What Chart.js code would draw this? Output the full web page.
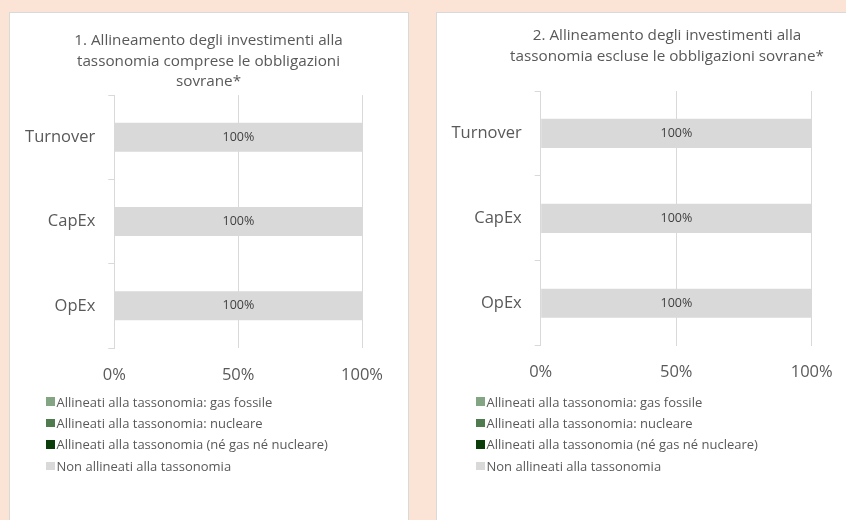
<!DOCTYPE html>
<html>
<head>
<meta charset="utf-8">
<script src="https://cdn.jsdelivr.net/npm/chart.js@4"></script>
<style>
  body {
    margin: 0;
    width: 846px;
    height: 520px;
    overflow: hidden;
    background: #fbe4d6;
    position: relative;
    font-family: "Open Sans", sans-serif;
  }
  .panel {
    position: absolute;
    box-sizing: border-box;
    background: #fff;
    border: 1px solid #d9d9d9;
  }
  canvas { position: absolute; }
  .legend {
    position: absolute;
    font-size: 13px;
    color: #595959;
  }
  .legend div {
    height: 21.4px;
    display: flex;
    align-items: center;
    white-space: nowrap;
  }
  .legend span.box {
    display: inline-block;
    width: 8.5px;
    height: 8.5px;
    margin-right: 2px;
  }
</style>
</head>
<body>
<div class="panel" style="left:9px; top:12px; width:400px; height:530px;"></div>
<div class="panel" style="left:436px; top:12px; width:470px; height:530px;"></div>

<canvas id="chart1" width="399" height="397" style="left:9px; top:12px;"></canvas>
<canvas id="chart2" width="460" height="397" style="left:437px; top:12px;"></canvas>

<div class="legend" id="legend1" style="left:46px; top:391px;"></div>
<div class="legend" id="legend2" style="left:476px; top:391px;"></div>

<script>
/* ===============================
   DATA
================================ */
const categories = ["Turnover", "CapEx", "OpEx"];
const xTicks = [0, 50, 100];

const seriesNames = [
  "Allineati alla tassonomia: gas fossile",
  "Allineati alla tassonomia: nucleare",
  "Allineati alla tassonomia (né gas né nucleare)",
  "Non allineati alla tassonomia"
];
const seriesColors = ["#84a584", "#4f7b4f", "#0a3d0a", "#d9d9d9"];

const title1 = [
  "1. Allineamento degli investimenti alla",
  "tassonomia comprese le obbligazioni",
  "sovrane*"
];
const title2 = [
  "2. Allineamento degli investimenti alla",
  "tassonomia escluse le obbligazioni sovrane*"
];

// chart 1: comprese le obbligazioni sovrane
const gasFossile1 = [0, 0, 0];
const nucleare1 = [0, 0, 0];
const altriAllineati1 = [0, 0, 0];
const nonAllineati1 = [100, 100, 100];

// chart 2: escluse le obbligazioni sovrane
const gasFossile2 = [0, 0, 0];
const nucleare2 = [0, 0, 0];
const altriAllineati2 = [0, 0, 0];
const nonAllineati2 = [100, 100, 100];

Chart.defaults.font.family = "'Open Sans', sans-serif";
Chart.defaults.color = "#595959";

/* ===============================
   DATA LABELS (centre of bar)
================================ */
const barLabels = {
  id: "barLabels",
  afterDatasetsDraw(chart) {
    const ctx = chart.ctx;
    ctx.save();
    ctx.font = "12.5px 'Open Sans', sans-serif";
    ctx.fillStyle = "#404040";
    ctx.textAlign = "center";
    ctx.textBaseline = "middle";
    chart.data.datasets.forEach((ds, i) => {
      chart.getDatasetMeta(i).data.forEach((bar, j) => {
        const v = ds.data[j];
        if (!v) return;
        ctx.fillText(v + "%", (bar.x + bar.base) / 2, bar.y);
      });
    });
    ctx.restore();
  }
};

/* ===============================
   CHART BUILDER
================================ */
function makeChart(id, title, series, lay) {
  const datasets = series.map((values, i) => ({
    label: seriesNames[i],
    data: values,
    backgroundColor: seriesColors[i],
    borderWidth: 0,
    barPercentage: 1,
    categoryPercentage: 0.344
  }));

  return new Chart(document.getElementById(id), {
    type: "bar",
    data: { labels: categories, datasets: datasets },
    plugins: [barLabels],
    options: {
      indexAxis: "y",
      responsive: false,
      animation: false,
      layout: {
        padding: { left: 0, top: 0, right: 0, bottom: lay.padBottom }
      },
      plugins: {
        legend: { display: false },
        tooltip: { enabled: false },
        title: {
          display: true,
          text: title,
          color: "#595959",
          font: { size: 15.25, weight: "normal", lineHeight: lay.titleLine },
          padding: { top: lay.titleTop, bottom: lay.titleBottom }
        }
      },
      scales: {
        x: {
          stacked: true,
          min: xTicks[0],
          max: xTicks[xTicks.length - 1],
          ticks: {
            stepSize: xTicks[1] - xTicks[0],
            padding: 17,
            color: "#595959",
            font: { size: 16.5 },
            callback: v => v + "%"
          },
          grid: { color: "#d9d9d9", drawTicks: false },
          border: { display: false }
        },
        y: {
          stacked: true,
          afterFit: scale => { scale.width = lay.yWidth; },
          ticks: {
            padding: 13,
            color: "#595959",
            font: { size: 16.5 }
          },
          grid: {
            color: "#d9d9d9",
            drawOnChartArea: false,
            tickLength: 6
          },
          border: { color: "#d9d9d9" }
        },
        // empty right-hand margin (keeps the title centred on the whole canvas)
        spacer: {
          type: "linear",
          position: "right",
          ticks: { display: false },
          grid: { display: false },
          border: { display: false },
          afterFit: scale => { scale.width = lay.rightGap; }
        }
      }
    }
  });
}

function makeLegend(id) {
  const el = document.getElementById(id);
  el.innerHTML = "";
  seriesNames.forEach((name, i) => {
    const row = document.createElement("div");
    row.innerHTML = `<span class="box" style="background:${seriesColors[i]}"></span>${name}`;
    el.appendChild(row);
  });
}

/* ===============================
   INIT
================================ */
makeChart("chart1", title1, [gasFossile1, nucleare1, altriAllineati1, nonAllineati1], {
  titleTop: 18.8, titleBottom: 3, titleLine: 1.34,
  yWidth: 105.3, rightGap: 46, padBottom: 7.2
});
makeChart("chart2", title2, [gasFossile2, nucleare2, altriAllineati2, nonAllineati2], {
  titleTop: 12.5, titleBottom: 23.5, titleLine: 1.41,
  yWidth: 103.7, rightGap: 85.3, padBottom: 9.5
});

makeLegend("legend1");
makeLegend("legend2");
</script>
</body>
</html>
